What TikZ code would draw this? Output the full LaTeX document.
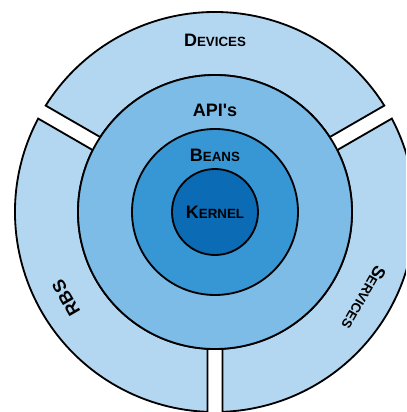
\documentclass[tikz,border=0pt]{standalone}
\usepackage{fontspec}
\setmainfont{Liberation Sans}
\usepackage{tikz}
\usetikzlibrary{positioning}

\definecolor{palering}{HTML}{B4D7F1}
\definecolor{apiring}{HTML}{7DBCE7}
\definecolor{beanring}{HTML}{3796D4}
\definecolor{kernelcore}{HTML}{0B6BB5}

% big first letter, rest in smaller capitals
\newcommand{\fakesc}[2]{#1{\fontsize{9.5}{10}\selectfont #2}}

\begin{document}
\begin{tikzpicture}[
  ring/.style={draw, line width=1.3pt},
  disc/.style={circle, draw, line width=1.3pt, inner sep=0pt},
  lbl/.style={font=\fontsize{12.8}{14}\selectfont\bfseries, inner sep=0pt}
]
\useasboundingbox (-5.375,-5.0) rectangle (4.775,5.3);
\clip (-5.375,-5.0) rectangle (4.775,5.3);

% outer segments, cut by straight gaps at 30, 150 and 270 degrees
\foreach \a/\b in {30/150, 150/270, 270/390} {
  \path[ring, fill=palering]
    ({\a+2.15}:5) arc[start angle=\a+2.15, end angle=\b-2.15, radius=5]
    -- ({\b-3.14}:3.425) arc[start angle=\b-3.14, end angle=\a+3.14, radius=3.425]
    -- cycle;
}

\node[disc, fill=apiring, minimum size=6.85cm] (apis) at (0,0) {};
\node[disc, fill=beanring, minimum size=4.15cm] (beans) at (0,0) {};
\node[disc, fill=kernelcore, minimum size=2.15cm] (kernel) at (0,0) {};

\node[lbl] (kernellbl) at (0,0) {\fakesc{K}{ERNEL}};
\node[lbl] (beanslbl) at (0,1.42) {\fakesc{B}{EANS}};
\node[lbl] (apislbl) at (0,2.55) {API\textquotesingle s};

\node[lbl] (devices) at (90:4.3) {\fakesc{D}{EVICES}};
\node[lbl, rotate=120] (rbs) at (210:4.3) {RBS};
\node[lbl, rotate=240] (services) at (330:4.3) {\fakesc{S}{ERVICES}};
\end{tikzpicture}
\end{document}
